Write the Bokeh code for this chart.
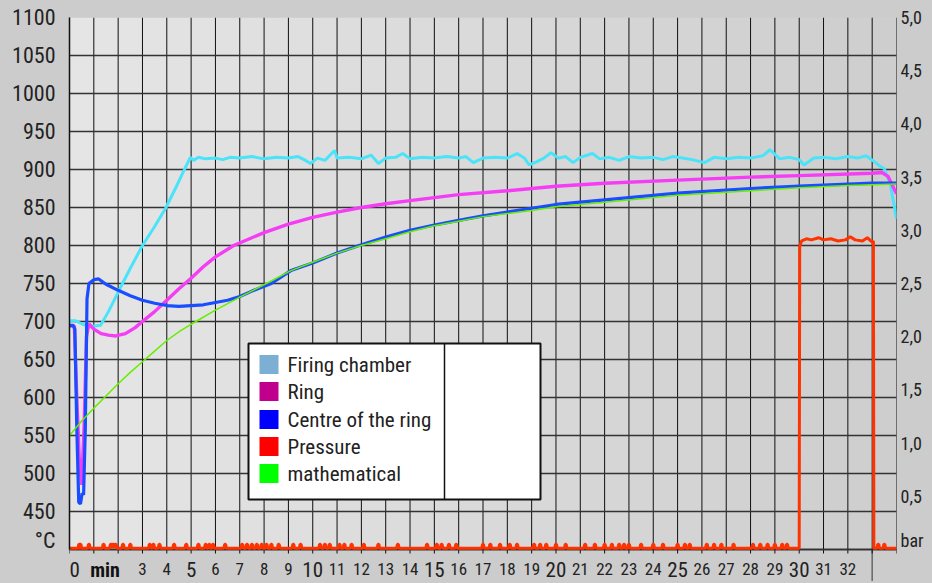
from bokeh.plotting import figure
from bokeh.models import Range1d, LinearAxis, FixedTicker
from bokeh.core.properties import value
from bokeh.embed import file_html
from bokeh.resources import INLINE

# ---------------- data ----------------
# Firing chamber [°C]
fc_t = [0, 0.25, 0.5, 0.75, 1.0, 1.28, 1.6, 2.1, 2.5, 3.0, 3.5, 3.95, 4.4, 4.77, 4.97, 5.1, 5.3, 5.6,
        6.0, 6.3, 6.6, 7.0, 7.5, 8.0, 8.5, 9.0, 9.4, 9.7, 9.9, 10.2, 10.5, 10.9, 11.0, 11.5, 12.0,
        12.4, 12.7, 13.0, 13.4, 13.7, 14.0, 14.5, 15.0, 15.5, 16.0, 16.3, 16.6, 17.0, 17.5, 18.0,
        18.4, 18.7, 18.9, 19.2, 19.5, 19.8, 20.1, 20.4, 20.7, 21.0, 21.5, 21.8, 22.2, 22.6, 23.0,
        23.5, 24.0, 24.4, 24.8, 25.2, 25.6, 26.1, 26.5, 27.0, 27.5, 28.0, 28.5, 28.8, 29.2, 29.6,
        30.0, 30.2, 30.6, 31.0, 31.5, 32.0, 32.4, 32.75, 33.1, 33.3, 33.5, 33.75, 34.0]
fc_v = [701, 701, 697, 694, 694, 695, 713, 745, 770, 800, 825, 849, 878, 903, 916, 912, 916, 914,
        915, 913, 916, 915, 917, 914, 916, 915, 917, 912, 908, 915, 912, 925, 915, 916, 914,
        919, 908, 915, 916, 921, 914, 916, 915, 917, 915, 917, 909, 915, 916, 915,
        921, 915, 906, 910, 915, 922, 915, 917, 909, 916, 921, 914, 916, 912, 917,
        915, 916, 913, 917, 915, 913, 909, 916, 914, 916, 915, 918, 926, 914, 916,
        913, 906, 915, 916, 914, 917, 915, 918, 910, 905, 901, 880, 835]

# Ring [°C]
ring_t = [0, 0.2, 0.3, 0.4, 0.5, 0.6, 0.7, 0.8, 1.0, 1.3, 1.6, 1.9, 2.3, 2.7, 3.0, 3.5, 4.0, 4.5,
          5.0, 5.5, 6.0, 6.75, 8.0, 9.0, 10.0, 11.0, 12.0, 13.0, 14.0, 16.0, 18.0, 20.0, 22.0,
          25.0, 28.0, 30.0, 33.0, 33.4, 33.65, 34.0]
ring_v = [694, 694, 600, 520, 485, 560, 680, 697, 690, 684, 682, 681, 684, 692, 700, 713, 728, 743,
          757, 772, 785, 800, 817, 828, 837, 844, 850, 855, 859, 867, 872, 878, 882,
          886, 890, 892, 895, 896, 891, 868]

# Centre of the ring [°C]
centre_t = [0, 0.15, 0.22, 0.3, 0.38, 0.45, 0.52, 0.58, 0.65, 0.72, 0.8, 1.0, 1.2, 1.5, 2.0, 2.5,
            3.0, 3.5, 4.0, 4.5, 5.0, 5.5, 6.0, 6.5, 7.0, 7.5, 8.3, 9.1, 10, 11, 12, 13, 14, 15,
            16, 17, 18, 19, 20, 22, 25, 28, 30, 33, 34]
centre_v = [695, 695, 690, 560, 462, 460, 474, 472, 560, 730, 750, 755, 756, 749, 741, 734,
            728, 724, 721, 720, 721, 722, 725, 728, 733, 740, 750, 767, 777, 790, 801, 811, 820, 827,
            833, 839, 844, 849, 854, 860, 869, 875, 878, 882, 882]

# mathematical [°C]
math_t = [0, 0.5, 1, 1.5, 2, 2.5, 3, 3.5, 4, 4.57, 5.25, 6, 7, 8.27, 9.1, 10, 11, 12, 13, 14, 15,
          16, 17, 18, 19, 20, 22, 25, 28, 30, 32, 34]
math_v = [550, 569, 586, 602, 618, 633, 647, 661, 675, 688, 701, 715, 732, 753, 767, 778, 790, 800,
          809, 818, 826, 832, 838, 842, 846, 851, 857, 866, 872, 876, 879, 881]

# Pressure [bar]
p_base = 0.012
p_spike_h = 0.05
p_spike_t = [0.4, 0.45, 0.8, 1.4, 1.7, 1.8, 1.9, 2.2, 2.5, 3.3, 3.45, 3.7, 4.3, 4.8, 5.3, 5.6,
             5.75, 5.9, 6.4, 7.1, 7.3, 7.5, 7.7, 7.9, 8.1, 8.3, 8.6, 9.2, 9.5, 10.3, 10.5, 10.7,
             11.1, 11.3, 11.6, 12.1, 12.7, 13.5, 14.7, 15.1, 15.3, 15.6, 15.9, 17.0, 17.3, 17.7,
             18.1, 18.4, 19.1, 19.35, 19.6, 20.0, 20.4, 21.2, 21.6, 22.0, 22.3, 22.6, 22.8, 23.0,
             23.5, 24.0, 24.4, 25.0, 25.3, 25.5, 26.2, 26.5, 26.8, 27.3, 28.1, 28.4, 28.7, 29.0,
             29.3, 29.5]
p_high_t = [30.02, 30.1, 30.3, 30.5, 30.8, 31.0, 31.3, 31.6, 31.9, 32.1, 32.3, 32.6, 32.8, 33.0, 33.05]
p_high_v = [2.85, 2.90, 2.92, 2.91, 2.93, 2.91, 2.92, 2.90, 2.91, 2.94, 2.91, 2.90, 2.93, 2.89, 2.90]
p_late_spike_t = [33.25, 33.5]

temp_ticks = list(range(400, 1101, 50))
temp_unit = "°C"
bar_ticks = [0.5, 1.0, 1.5, 2.0, 2.5, 3.0, 3.5, 4.0, 4.5, 5.0]
bar_tick_labels = ["0,5", "1,0", "1,5", "2,0", "2,5", "3,0", "3,5", "4,0", "4,5", "5,0"]
bar_unit = "bar"
minute_ticks = list(range(0, 35))
big_minutes = [5, 10, 15, 20, 25, 30]
small_minutes = [m for m in range(3, 33) if m % 5 != 0]
minute_unit = "min"

legend_labels = ["Firing chamber", "Ring", "Centre of the ring", "Pressure", "mathematical"]
legend_colors = ["#7bafd4", "#c0008c", "#0000ff", "#ff0000", "#00ff00"]

# ---------------- layout (pixel positions of the reference) ----------------
FONT = "'Roboto Condensed', 'Liberation Sans Narrow', 'DejaVu Sans Condensed', 'Liberation Sans'"
W, H = 930, 581
X0PX, X34PX = 69, 896          # frame left / right
Y1100PX, Y400PX = 17, 549      # top of scale / temperature axis
XPX = 34.0 / (X34PX - X0PX)
YPX = 700.0 / (Y400PX - Y1100PX)
Y_START = 400 - (H - Y400PX) * YPX
BAR_PER_PX = 5.0 / (Y400PX - Y1100PX)


def sx(px):
    return (px - X0PX) * XPX


def sy(py):
    return 400 + (Y400PX - py) * YPX


p = figure(width=W, height=H, x_range=Range1d(0, 34), y_range=Range1d(Y_START, 1100),
           output_backend="svg", toolbar_location=None,
           min_border_left=X0PX, min_border_right=W - X34PX, min_border_top=Y1100PX,
           min_border_bottom=0)
p.border_fill_color = "#cccccc"
p.background_fill_color = "#cccccc"
p.outline_line_color = None
p.extra_y_ranges = {"bar": Range1d(-(H - Y400PX) * BAR_PER_PX, 5)}
p.xaxis.visible = False
p.xgrid.visible = False

# plot area background (slight left-to-right gradient, in column bands)
n_col = 34
for i in range(n_col):
    g = int(round(229 - i * 23.0 / (n_col - 1)))
    p.quad(left=i, right=i + 1, bottom=400, top=1100, fill_color=(g, g, g), line_color=None,
           level="image")

# horizontal grid
p.ygrid.ticker = FixedTicker(ticks=temp_ticks)
p.ygrid.grid_line_color = "#333333"
p.ygrid.grid_line_width = 1.6

# vertical grid (one line per minute), x axis line and tick marks
p.segment(x0=minute_ticks, x1=minute_ticks, y0=[400] * len(minute_ticks),
          y1=[1100] * len(minute_ticks), line_color="#111111", line_width=1, level="underlay")
p.segment(x0=[33], x1=[33], y0=[Y_START], y1=[400], line_color="#666666", line_width=1.5,
          level="underlay")
p.segment(x0=[0], x1=[34], y0=[400], y1=[400], line_color="#111111", line_width=1.6,
          level="underlay")
p.segment(x0=minute_ticks, x1=minute_ticks, y0=[400] * len(minute_ticks),
          y1=[400 - 4 * YPX] * len(minute_ticks), line_color="#111111", line_width=1,
          level="underlay")

# left temperature axis
unit_tick = 400 + 9 * YPX
p.yaxis.ticker = FixedTicker(ticks=temp_ticks[1:] + [unit_tick])
p.yaxis.major_label_overrides = {unit_tick: temp_unit}
p.yaxis.bounds = (400, 1100)
p.yaxis.major_label_text_font = FONT
p.yaxis.major_label_text_font_size = "22px"
p.yaxis.major_label_text_color = "#222222"
p.yaxis.major_label_standoff = 14
p.yaxis.major_tick_out = 0
p.yaxis.major_tick_in = 0
p.yaxis.minor_tick_line_color = None
p.yaxis.axis_line_color = "#111111"
p.yaxis.axis_line_width = 1.5

# right pressure axis
bar_unit_tick = 9 * BAR_PER_PX
bar_overrides = {t: s for t, s in zip(bar_ticks, bar_tick_labels)}
bar_overrides[bar_unit_tick] = bar_unit
bar_axis = LinearAxis(y_range_name="bar", ticker=FixedTicker(ticks=bar_ticks + [bar_unit_tick]),
                      major_label_overrides=bar_overrides, bounds=(0, 5),
                      major_tick_out=0, major_tick_in=0, minor_tick_line_color=None,
                      axis_line_color=None, major_label_standoff=4,
                      major_label_text_font=FONT, major_label_text_font_size="18px",
                      major_label_text_color="#222222")
p.add_layout(bar_axis, "right")

# minute labels (two sizes) and unit
p.text(x=small_minutes, y=[sy(568)] * len(small_minutes), text=[str(m) for m in small_minutes],
       text_align="center", text_baseline="middle", text_font=value(FONT),
       text_font_size="17px", text_color="#222222")
p.text(x=big_minutes, y=[sy(569)] * len(big_minutes), text=[str(m) for m in big_minutes],
       text_align="center", text_baseline="middle", text_font=value(FONT),
       text_font_size="21px", text_color="#222222")
p.text(x=[0], y=[sy(569)], text=["0"], text_align="left", text_baseline="middle",
       text_font=value(FONT), text_font_size="21px", text_color="#222222")
p.text(x=[sx(104.5)], y=[sy(569)], text=[minute_unit], text_align="center",
       text_baseline="middle", text_font=value(FONT), text_font_size="20px",
       text_font_style="bold", text_color="#111111")

# ---------------- series ----------------
p.line(fc_t, fc_v, line_color="#4ae4fa", line_width=3)
p.line(ring_t, ring_v, line_color="#f53df5", line_width=3.4)
p.line(centre_t, centre_v, line_color="#1a4dff", line_width=3.2)
p.line(math_t, math_v, line_color="#66ee00", line_width=1.5)

# pressure polyline from the read baseline spikes and the high section
px_, py_ = [0.0], [p_base]
for s in p_spike_t:
    px_ += [s - 0.05, s - 0.02, s + 0.02, s + 0.05]
    py_ += [p_base, p_spike_h, p_spike_h, p_base]
px_ += [30.0]
py_ += [p_base]
px_ += p_high_t
py_ += p_high_v
px_ += [33.07]
py_ += [p_base]
for s in p_late_spike_t:
    px_ += [s - 0.05, s - 0.02, s + 0.02, s + 0.05]
    py_ += [p_base, p_spike_h, p_spike_h, p_base]
px_ += [34.0]
py_ += [p_base]
p.line(px_, py_, line_color="#ff3300", line_width=3, y_range_name="bar")

# ---------------- legend box ----------------
p.quad(left=sx(248), right=sx(540), bottom=sy(499), top=sy(343), fill_color="white",
       line_color="#111111", line_width=2)
p.segment(x0=[sx(444)], x1=[sx(444)], y0=[sy(499)], y1=[sy(343)], line_color="#111111",
          line_width=1.5)
row_py = [364, 391, 419, 446, 473]
p.quad(left=[sx(259)] * 5, right=[sx(278)] * 5,
       bottom=[sy(r + 9.5) for r in row_py], top=[sy(r - 9.5) for r in row_py],
       fill_color=legend_colors, line_color=None)
p.text(x=[sx(287)] * 5, y=[sy(r) for r in row_py], text=legend_labels,
       text_font=value(FONT), text_font_size="21px", text_color="#222222",
       text_baseline="middle", text_align="left")

html = file_html(p, INLINE)
html = html.replace("<head>", "<head><style>body{background:#cccccc;}</style>", 1)
open("out.html", "w").write(html)
